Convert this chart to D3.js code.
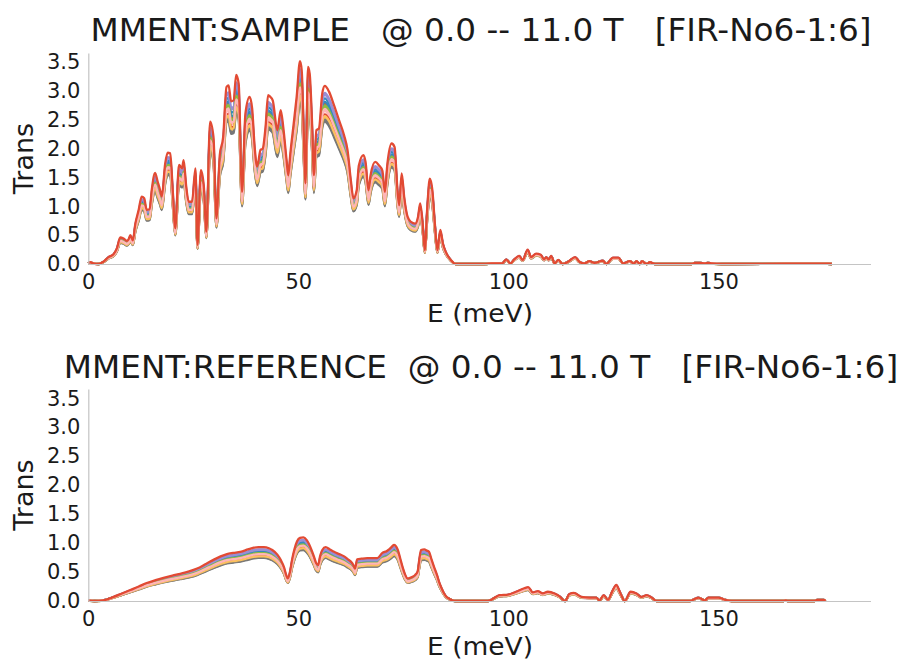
<!DOCTYPE html>
<html>
<head>
<meta charset="utf-8">
<script src="https://cdn.jsdelivr.net/npm/d3@7"></script>
<style>
  body { margin: 0; background: #fff; }
  svg { display: block; }
  text { font-family: "DejaVu Sans", sans-serif; fill: #1a1a1a; }
</style>
</head>
<body>
<svg id="chart" width="903" height="664"></svg>
<script>
// Field sweep 0.0 -- 11.0 T; gain of each scan relative to the highest-transmission scan
const fieldTesla = [0.0, 0.5, 1.0, 1.5, 2.0, 2.5, 3.0, 4.0, 5.0, 6.0, 7.0, 8.0, 9.0, 10.0, 11.0];
const fieldGain  = [0.90, 0.93, 0.96, 0.80, 0.82, 0.88, 0.86, 0.84, 0.91, 0.95, 0.81, 0.83, 0.89, 0.87, 1.00];

// SAMPLE spectrum (meV, transmission) of the highest scan
const sampleEnergy = [0, 0.5, 1.2, 2.5, 3.6, 4.8, 6.0, 6.8, 7.6, 8.4, 9.2, 9.6, 10.0, 10.6, 11.2, 12.0, 12.7, 13.3, 13.9, 14.6,
  15.1, 15.9, 16.5, 17.1, 17.5, 18.3, 18.9, 19.5, 20.1, 20.7, 21.6, 22.3, 22.7, 23.3, 23.9, 24.7, 25.5, 26.0, 26.8, 27.5,
  28.1, 29.0, 29.8, 30.5, 31.3, 32.1, 32.9, 33.4, 34.0, 34.6, 35.2, 35.8, 36.6, 37.4, 38.4, 39.0, 39.6, 40.2, 41.0, 41.5,
  42.2, 42.8, 43.3, 43.9, 45.0, 45.8, 46.4, 47.2, 47.6, 48.1, 48.9, 49.6, 50.4, 50.8, 51.3, 51.7, 52.3, 52.7, 53.3, 53.7,
  54.3, 54.9, 55.7, 56.3, 57.3, 58.5, 59.7, 60.9, 61.7, 62.5, 63.1, 63.9, 64.4, 65.5, 66.0, 66.7, 67.2, 68.3, 69.2, 70.0,
  70.6, 71.2, 72.2, 72.9, 73.6, 74.0, 74.6, 75.2, 76.0, 76.8, 77.8, 78.5, 79.0, 79.6, 80.1, 80.7, 81.3, 81.9, 82.5, 83.1,
  83.8, 84.4, 85.1, 86.3, 87.5, 94.3, 96.0, 98.5, 99.5, 100.5, 101.4, 102.6, 103.4, 104.6, 105.4, 106.6, 107.7, 108.5, 109.0, 109.6,
  110.2, 111.0, 111.9, 112.9, 114.2, 115.9, 116.9, 118.1, 119.3, 120.5, 122.5, 123.3, 124.9, 126.2, 127.3, 128.9, 129.9, 130.5, 131.3, 131.8,
  132.9, 133.7, 134.9, 143.5, 144.4, 145.6, 146.8, 147.5, 148.4, 150.8, 165.9, 176.0, 177.0];
const sampleTrans = [0.01, 0.03, 0.01, 0.0, 0.04, 0.12, 0.17, 0.27, 0.46, 0.44, 0.40, 0.43, 0.50, 0.41, 0.70, 0.94, 1.17, 1.14, 0.94, 0.95,
  1.28, 1.58, 1.43, 1.28, 1.17, 1.74, 1.93, 1.92, 1.28, 0.62, 1.72, 1.66, 1.80, 1.35, 1.08, 1.08, 1.66, 0.33, 1.63, 1.35,
  0.56, 2.47, 2.20, 0.79, 1.89, 2.20, 3.07, 3.10, 2.82, 2.84, 3.28, 3.13, 1.25, 2.61, 2.90, 2.70, 2.03, 1.69, 1.98, 2.00,
  2.38, 2.93, 2.90, 2.84, 2.32, 2.67, 2.38, 1.80, 1.54, 1.92, 2.44, 2.90, 3.52, 3.36, 2.26, 1.40, 3.42, 3.30, 2.38, 1.54,
  2.32, 2.35, 2.96, 3.09, 2.99, 2.75, 2.49, 2.23, 1.98, 1.45, 1.14, 1.28, 1.71, 1.89, 1.77, 1.28, 1.54, 1.77, 1.71, 1.62,
  1.25, 1.74, 2.09, 2.03, 1.28, 1.02, 1.57, 1.16, 0.82, 0.73, 0.70, 0.82, 1.05, 0.70, 0.24, 0.99, 1.48, 1.28, 0.70, 0.24,
  0.59, 0.36, 0.21, 0.07, 0.0, 0.0, 0.01, 0.01, 0.08, 0.01, 0.08, 0.14, 0.07, 0.25, 0.12, 0.18, 0.16, 0.08, 0.12, 0.08,
  0.14, 0.01, 0.07, 0.0, 0.04, 0.12, 0.04, 0.01, 0.05, 0.02, 0.06, 0.0, 0.11, 0.11, 0.01, 0.05, 0.01, 0.05, 0.0, 0.05,
  0.0, 0.03, 0.0, 0.0, 0.02, 0.02, 0.01, 0.02, 0.01, 0.0, 0.005, 0.005, 0.0];

// REFERENCE spectrum (meV, transmission) of the highest scan
const referenceEnergy = [0, 1.5, 3.5, 6.0, 8.0, 10.0, 12.0, 13.9, 16.0, 17.9, 20.0, 21.9, 24.0, 25.9, 28.0, 29.8, 31.5, 33.0, 34.5, 36.2,
  38.0, 39.4, 40.5, 41.8, 43.0, 43.8, 45.0, 45.8, 46.6, 47.1, 47.5, 48.0, 48.5, 49.1, 49.7, 50.4, 51.2, 52.0, 52.5, 53.2,
  53.7, 54.2, 54.7, 55.2, 55.7, 56.5, 57.5, 58.5, 59.7, 60.9, 61.8, 62.5, 63.1, 63.5, 64.0, 65.0, 66.4, 67.6, 68.8, 70.0,
  71.0, 71.6, 72.3, 72.8, 73.3, 73.7, 74.3, 74.8, 75.4, 76.0, 76.6, 77.2, 77.8, 78.4, 78.8, 79.2, 80.0, 80.6, 81.1, 81.7,
  82.3, 83.0, 83.5, 84.1, 84.7, 85.3, 85.9, 86.7, 87.5, 95.1, 95.9, 97.0, 97.9, 99.9, 101.8, 103.8, 104.7, 105.8, 107.0, 108.2,
  109.4, 111.0, 112.2, 113.5, 114.5, 115.6, 117.4, 119.3, 120.9, 121.7, 122.7, 123.7, 124.8, 125.7, 126.4, 126.9, 127.7, 129.1, 130.5, 131.7,
  132.9, 134.1, 135.3, 143.2, 145.2, 146.8, 147.6, 150.0, 151.6, 153.2, 165.5, 165.9, 166.5, 172.8, 173.5, 175.0, 175.5];
const referenceTrans = [0.01, 0.0, 0.01, 0.07, 0.13, 0.19, 0.25, 0.31, 0.36, 0.40, 0.44, 0.47, 0.51, 0.56, 0.64, 0.71, 0.77, 0.81, 0.83, 0.85,
  0.89, 0.92, 0.93, 0.93, 0.91, 0.88, 0.80, 0.71, 0.58, 0.45, 0.39, 0.50, 0.71, 0.90, 1.03, 1.09, 1.10, 1.05, 0.99, 0.87,
  0.77, 0.66, 0.62, 0.78, 0.88, 0.93, 0.89, 0.85, 0.81, 0.77, 0.72, 0.68, 0.62, 0.56, 0.72, 0.73, 0.74, 0.74, 0.74, 0.83,
  0.86, 0.89, 0.94, 0.97, 0.94, 0.88, 0.72, 0.59, 0.46, 0.39, 0.40, 0.42, 0.45, 0.51, 0.72, 0.88, 0.89, 0.87, 0.85, 0.72,
  0.59, 0.45, 0.33, 0.22, 0.13, 0.07, 0.04, 0.01, 0.0, 0.0, 0.02, 0.07, 0.10, 0.11, 0.16, 0.22, 0.24, 0.15, 0.17, 0.13,
  0.16, 0.13, 0.08, 0.0, 0.12, 0.14, 0.07, 0.06, 0.06, 0.01, 0.10, 0.02, 0.18, 0.28, 0.18, 0.10, 0.0, 0.16, 0.13, 0.07,
  0.10, 0.06, 0.0, 0.0, 0.06, 0.01, 0.06, 0.06, 0.02, 0.0, 0.0, 0.01, 0.0, 0.0, 0.02, 0.02, 0.0];

const yTicks = [0.0, 0.5, 1.0, 1.5, 2.0, 2.5, 3.0, 3.5];
const xTicks = [0, 50, 100, 150];
const lineColors = ["#E24A33", "#348ABD", "#988ED5", "#777777", "#FBC15E", "#8EBA42", "#FFB5B8"];

const svg = d3.select("#chart");

const panels = [
  { title: "MMENT:SAMPLE\u00a0\u00a0\u00a0@ 0.0 -- 11.0 T\u00a0\u00a0\u00a0[FIR-No6-1:6]",
    energy: sampleEnergy, trans: sampleTrans, top: 53, bottom: 264, titleY: 41, xLabelY: 322 },
  { title: "MMENT:REFERENCE\u00a0\u00a0@ 0.0 -- 11.0 T\u00a0\u00a0\u00a0[FIR-No6-1:6]",
    energy: referenceEnergy, trans: referenceTrans, top: 389, bottom: 601, titleY: 378, xLabelY: 655 }
];

const left = 88.3, right = 870.5;
const x = d3.scaleLinear().domain([0, 186.2]).range([left, right]);

panels.forEach(p => {
  const y = d3.scaleLinear().domain([0, 3.66]).range([p.bottom, p.top]);
  const g = svg.append("g");

  const line = d3.line()
    .x(d => x(d[0]))
    .y(d => y(d[1]))
    .curve(d3.curveMonotoneX);

  // one trace per field value, drawn in sweep order
  fieldGain.forEach((gain, i) => {
    const pts = p.energy.map((e, k) => [e, p.trans[k] * gain]);
    g.append("path")
      .attr("d", line(pts))
      .attr("fill", "none")
      .attr("stroke", lineColors[i % lineColors.length])
      .attr("stroke-width", 2.3)
      .attr("stroke-linejoin", "round");
  });

  // axes (spines sit above the traces)
  const ya = g.append("g")
    .attr("transform", `translate(${left},0)`)
    .call(d3.axisLeft(y).tickValues(yTicks).tickSize(0).tickSizeOuter(0).tickPadding(8).tickFormat(d3.format(".1f")));
  const xa = g.append("g")
    .attr("transform", `translate(0,${p.bottom})`)
    .call(d3.axisBottom(x).tickValues(xTicks).tickSize(0).tickSizeOuter(0).tickPadding(10));
  [ya, xa].forEach(a => {
    a.select(".domain").attr("stroke", "#c4c4c4").attr("stroke-width", 1.2);
    a.selectAll("text").attr("font-size", 21).attr("font-family", "DejaVu Sans").attr("fill", "#1a1a1a");
  });

  g.append("text")
    .attr("x", 481).attr("y", p.titleY)
    .attr("text-anchor", "middle")
    .attr("font-size", 32.7)
    .text(p.title);

  g.append("text")
    .attr("x", 480).attr("y", p.xLabelY)
    .attr("text-anchor", "middle")
    .attr("font-size", 25)
    .attr("textLength", 106)
    .attr("lengthAdjust", "spacingAndGlyphs")
    .text("E (meV)");

  g.append("text")
    .attr("transform", `translate(33,${(p.top + p.bottom) / 2}) rotate(-90)`)
    .attr("text-anchor", "middle")
    .attr("font-size", 27)
    .text("Trans");
});
</script>
</body>
</html>
